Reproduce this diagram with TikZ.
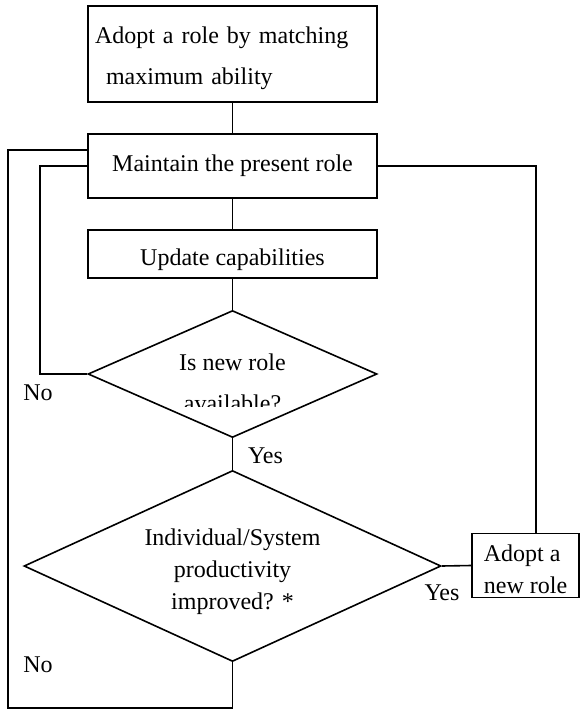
\documentclass[tikz,border=0pt]{standalone}
\usepackage{fontspec}
\setmainfont{Liberation Serif}
\usetikzlibrary{shapes.geometric}

\begin{document}
\begin{tikzpicture}[x=1pt, y=-1pt, line width=1.6pt,
        font=\fontsize{24}{32}\selectfont,
        procbox/.style={draw, rectangle, minimum width=289pt, inner sep=0pt},
        decision/.style={draw, diamond, inner sep=0pt},
        answer/.style={inner sep=0pt}]
    \useasboundingbox (0,0) rectangle (580,710);

    % Boxes down the middle
    \node[procbox, minimum height=96pt, text width=275pt, align=left] (adopt) at (232.5,54)
        {\rule{0pt}{26pt}Adopt a role by matching\\[9pt]\hspace*{11pt}maximum ability};
    \node[procbox, minimum height=64pt] (maintain) at (232.5,166) {Maintain the present role};
    \node[procbox, minimum height=48pt] (update) at (232.5,254) {\rule{0pt}{28pt}Update capabilities};

    % Decisions
    \node[decision, minimum width=289pt, minimum height=127pt, aspect=2.28] (avail) at (232.5,374) {};
    \begin{scope}
        \clip (90,340) rectangle (375,406);
        \node[align=center, inner sep=0pt] (availtext) at (232.5,383) {Is new role\\[9pt]available?};
    \end{scope}
    \node[decision, minimum width=417pt, minimum height=191pt, aspect=2.18, align=center] (prod) at (232.5,566)
        {\rule{0pt}{28pt}Individual/System\\productivity\\improved? *};
    \node[draw, rectangle, minimum width=107pt, minimum height=63pt, align=left] (newrole) at (525.5,565.5)
        {\rule{0pt}{25pt}Adopt a\\new role};

    % Labels
    \node[answer] (noavail) at (38,393) {No};
    \node[answer] (yesavail) at (265.5,456) {Yes};
    \node[answer] (yesprod) at (442,593) {Yes};
    \node[answer] (noprod) at (38,665) {No};

    % Connectors
    \coordinate (rside) at (536,166);
    \coordinate (innerx) at (40,374);
    \coordinate (outerx) at (8,708);
    \draw (adopt) -- (maintain);
    \draw (maintain) -- (update);
    \draw (update) -- (avail.north);
    \draw (avail.south) -- (prod.north);
    \draw (prod.east) -- (newrole.west);
    \draw (maintain.east) -- (rside) -- (rside |- newrole.north);
    \draw (avail.west) -- (innerx) |- (maintain.west);
    \draw (prod.south) |- (outerx) |- ([yshift=16pt]maintain.west);
\end{tikzpicture}
\end{document}
